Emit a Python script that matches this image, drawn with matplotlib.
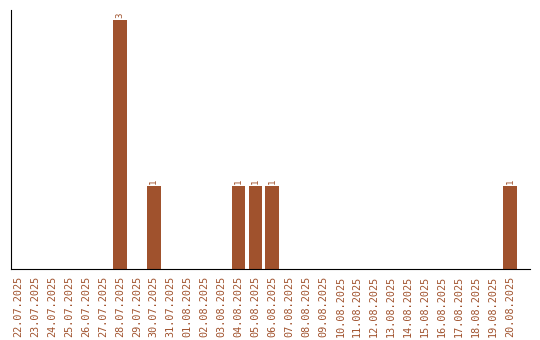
import matplotlib.pyplot as plt

# daily counts
dates = ['22.07.2025', '23.07.2025', '24.07.2025', '25.07.2025', '26.07.2025',
         '27.07.2025', '28.07.2025', '29.07.2025', '30.07.2025', '31.07.2025',
         '01.08.2025', '02.08.2025', '03.08.2025', '04.08.2025', '05.08.2025',
         '06.08.2025', '07.08.2025', '08.08.2025', '09.08.2025', '10.08.2025',
         '11.08.2025', '12.08.2025', '13.08.2025', '14.08.2025', '15.08.2025',
         '16.08.2025', '17.08.2025', '18.08.2025', '19.08.2025', '20.08.2025']
counts = [0, 0, 0, 0, 0, 0, 3, 0, 1, 0,
          0, 0, 0, 1, 1, 1, 0, 0, 0, 0,
          0, 0, 0, 0, 0, 0, 0, 0, 0, 1]

color = '#A0522D'

fig = plt.figure(figsize=(5.4, 3.4), dpi=100)
ax = fig.add_axes([11 / 540, 71 / 340, 519 / 540, 259 / 340])

x = range(len(dates))
bars = ax.bar(x, counts, width=0.82, color=color)

for rect, v in zip(bars, counts):
    if v > 0:
        ax.text(rect.get_x() + rect.get_width() / 2, v + 0.02, str(v),
                rotation=90, ha='center', va='bottom', fontsize=6.5,
                color=color, family='DejaVu Sans Mono')

ax.set_xlim(-0.41, len(dates) - 1 + 1.18)
ax.set_ylim(0, 3.12)
ax.set_xticks(list(x))
ax.set_xticklabels(dates, rotation=90, fontsize=7.3, color=color,
                   family='DejaVu Sans Mono')
ax.tick_params(axis='x', length=0, pad=5)
ax.set_yticks([])
ax.spines['top'].set_visible(False)
ax.spines['right'].set_visible(False)

plt.savefig('out.png', dpi=100)
